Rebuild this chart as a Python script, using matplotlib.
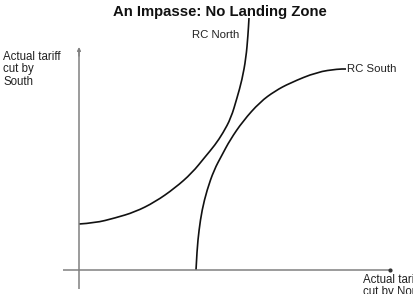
import matplotlib
matplotlib.use("Agg")
import matplotlib.pyplot as plt
from matplotlib.path import Path
from matplotlib.patches import PathPatch

plt.rcParams['font.family'] = ['Liberation Sans', 'DejaVu Sans']

title = "An Impasse: No Landing Zone"
y_label = "Actual tariff\ncut by\nSouth"
x_label = "Actual tariff\ncut by North"

north_label = "RC North"
north_x = [0, 16, 36, 56, 76, 96, 113, 126, 136, 144, 152, 158, 163, 167, 169, 170]
north_y = [46, 47, 52, 58, 68, 82, 97, 113, 125, 137, 152, 172, 190, 212, 235, 252]

south_label = "RC South"
south_x = [117, 118, 120, 123, 128, 135, 143, 151, 164, 181, 196, 211, 238, 259, 267]
south_y = [0, 20, 40, 60, 80, 100, 115, 130, 149, 168, 179, 187, 198, 201, 201]


def smooth_path(xs, ys):
    # quadratic Bezier through midpoints, control points at the read points
    pts = list(zip(xs, ys))
    verts = [pts[0]]
    codes = [Path.MOVETO]
    for i in range(1, len(pts) - 1):
        mid = ((pts[i][0] + pts[i + 1][0]) / 2, (pts[i][1] + pts[i + 1][1]) / 2)
        verts += [pts[i], mid]
        codes += [Path.CURVE3, Path.CURVE3]
    verts.append(pts[-1])
    codes.append(Path.LINETO)
    return Path(verts, codes)


fig = plt.figure(figsize=(4.13, 2.94), dpi=100)
ax = fig.add_axes([0, 0, 1, 1])
ax.set_xlim(-79, 334)
ax.set_ylim(-24, 270)
ax.axis('off')

axis_col = '#808080'
# y axis
ax.plot([0, 0], [-19, 218], color=axis_col, lw=1.1, solid_capstyle='butt')
ax.annotate('', xy=(0, 223), xytext=(0, 214),
            arrowprops=dict(arrowstyle='-|>', color=axis_col, lw=1.0,
                            mutation_scale=5, shrinkA=0, shrinkB=0))
# x axis
ax.plot([-16, 311], [0, 0], color=axis_col, lw=1.1, solid_capstyle='butt')
ax.plot([311], [0], marker='o', ms=2, color='#333333')

for xs, ys in ((north_x, north_y), (south_x, south_y)):
    ax.add_patch(PathPatch(smooth_path(xs, ys), facecolor='none',
                           edgecolor='#111111', lw=1.2))

ax.text(160, 235, north_label, ha='right', va='center', fontsize=8.2, color='#222222')
ax.text(268, 201, south_label, ha='left', va='center', fontsize=8.2, color='#222222')

ax.text(-76, 219, y_label, ha='left', va='top', fontsize=8.3,
        color='#222222', linespacing=1.05)
ax.text(284, -4, x_label, ha='left', va='top', fontsize=8.3,
        color='#222222', linespacing=1.05)

ax.text(141, 258, title, ha='center', va='center', fontsize=10.7,
        fontweight='bold', color='#111111')

fig.savefig('out.png', dpi=100)
